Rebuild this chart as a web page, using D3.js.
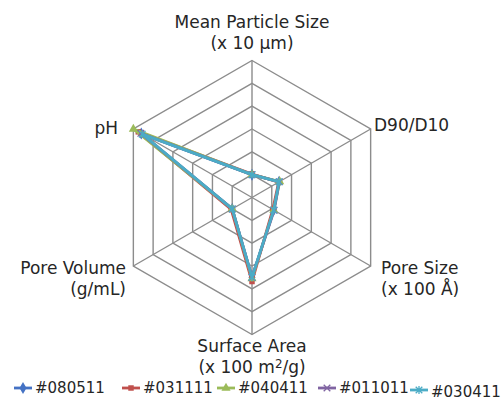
<!DOCTYPE html>
<html>
<head>
<meta charset="utf-8">
<script src="https://cdn.jsdelivr.net/npm/d3@7"></script>
<style>
  html, body { margin: 0; padding: 0; background: #fff; }
  svg { display: block; }
  text { font-family: "DejaVu Sans", sans-serif; fill: #262626; }
</style>
</head>
<body>
<svg id="chart" width="504" height="403"></svg>
<script>
// Axis names (two lines each) and the ring ticks of the radial scale
const axisNames = ["Mean Particle Size", "D90/D10", "Pore Size", "Surface Area", "Pore Volume", "pH"];
const axisUnits = ["(x 10 µm)", "", "(x 100 Å)", "(x 100 m²/g)", "(g/mL)", ""];
const ringTicks = [1, 2, 3, 4, 5, 6];

// Lots and their values, in axis order
const seriesNames = ["#080511", "#031111", "#040411", "#011011", "#030411"];
const s080511 = [1.0, 1.37, 1.1, 3.5, 1.0, 5.6];
const s031111 = [1.03, 1.35, 1.05, 3.68, 1.05, 5.75];
const s040411 = [1.0, 1.4, 1.1, 3.55, 1.0, 6.0];
const s011011 = [1.0, 1.38, 1.12, 3.5, 1.0, 5.62];
const s030411 = [1.0, 1.37, 1.1, 3.49, 1.0, 5.55];
const seriesValues = [s080511, s031111, s040411, s011011, s030411];
const seriesColors = ["#4472C4", "#C0504D", "#9BBB59", "#8064A2", "#4BACC6"];
const seriesMarkers = ["diamond", "square", "triangle", "x", "star"];

const svg = d3.select("#chart");
const cx = 252, cy = 197.5, R = 137;
const r = d3.scaleLinear().domain([0, 6]).range([0, R]);
const angle = d3.scaleLinear().domain([0, axisNames.length]).range([-Math.PI / 2, 1.5 * Math.PI]);
const px = (i, v) => cx + r(v) * Math.cos(angle(i));
const py = (i, v) => cy + r(v) * Math.sin(angle(i));

// Marker shapes: filled for diamond/square/triangle, stroked for x and star
function drawMarker(sel, kind, color, x, y, s) {
  const t = `translate(${x},${y})`;
  if (kind === "diamond") {
    sel.append("path").attr("d", d3.symbol().type(d3.symbolDiamond).size(s * 7)()).attr("transform", t).attr("fill", color);
  } else if (kind === "square") {
    sel.append("path").attr("d", d3.symbol().type(d3.symbolSquare).size(s * 5)()).attr("transform", t).attr("fill", color);
  } else if (kind === "triangle") {
    sel.append("path").attr("d", d3.symbol().type(d3.symbolTriangle).size(s * 6)()).attr("transform", t).attr("fill", color);
  } else {
    const h = s * 0.55;
    let d = `M${-h},${-h}L${h},${h}M${-h},${h}L${h},${-h}`;
    if (kind === "star") d += `M0,${-h * 1.2}L0,${h * 1.2}`;
    sel.append("path").attr("d", d).attr("transform", t)
      .attr("fill", "none").attr("stroke", color).attr("stroke-width", 1.3);
  }
}

const g = svg.append("g");

// Hexagonal grid rings
const ringLine = d3.line();
ringTicks.forEach(t => {
  const pts = axisNames.map((_, i) => [px(i, t), py(i, t)]);
  g.append("path")
    .attr("d", ringLine(pts) + "Z")
    .attr("fill", "none")
    .attr("stroke", "#8c8c8c")
    .attr("stroke-width", 1.4);
});

// Spokes
axisNames.forEach((_, i) => {
  g.append("line")
    .attr("x1", cx).attr("y1", cy)
    .attr("x2", px(i, 6)).attr("y2", py(i, 6))
    .attr("stroke", "#8c8c8c")
    .attr("stroke-width", 1.4);
});

// Axis labels
const fs = 17;
const labelPos = [
  { x: cx, y: 22, anchor: "middle" },
  { x: 374, y: 125, anchor: "start" },
  { x: 381, y: 268, anchor: "start" },
  { x: cx, y: 346, anchor: "middle" },
  { x: 126, y: 268, anchor: "end" },
  { x: 118, y: 128, anchor: "end" }
];
axisNames.forEach((name, i) => {
  const p = labelPos[i];
  const t = g.append("text")
    .attr("text-anchor", p.anchor)
    .attr("font-size", fs);
  t.append("tspan").attr("x", p.x).attr("y", p.y).attr("dy", "0.35em").text(name);
  if (axisUnits[i]) {
    const u = axisUnits[i];
    const sp = t.append("tspan").attr("x", p.x).attr("y", p.y + 21).attr("dy", "0.35em");
    if (u.includes("²")) {
      const [a, b] = u.split("²");
      sp.append("tspan").text(a);
      sp.append("tspan").attr("font-size", fs * 0.7).attr("dy", "-0.45em").text("2");
      sp.append("tspan").attr("dy", "0.3em").text(b);
    } else {
      sp.text(u);
    }
  }
});

// Series: closed line, then its markers
const radarLine = d3.line()
  .x((v, i) => px(i, v))
  .y((v, i) => py(i, v));

seriesValues.forEach((vals, s) => {
  const sg = g.append("g");
  sg.append("path")
    .attr("d", radarLine(vals) + "Z")
    .attr("fill", "none")
    .attr("stroke", seriesColors[s])
    .attr("stroke-width", 2.8)
    .attr("stroke-linejoin", "round");
  vals.forEach((v, i) => drawMarker(sg, seriesMarkers[s], seriesColors[s], px(i, v), py(i, v), 6));
});

// Legend (the last entry sits a little lower, as the row overflows)
const legendPos = [
  { x: 14, y: 388 }, { x: 122, y: 388 }, { x: 217, y: 388 }, { x: 318, y: 388 }, { x: 410, y: 390 }
];
seriesNames.forEach((name, s) => {
  const p = legendPos[s];
  const lg = svg.append("g").attr("transform", `translate(${p.x},${p.y})`);
  lg.append("line").attr("x1", 0).attr("x2", 18).attr("y1", 0).attr("y2", 0)
    .attr("stroke", seriesColors[s]).attr("stroke-width", 2.8);
  drawMarker(lg, seriesMarkers[s], seriesColors[s], 9, 0, 6);
  lg.append("text").attr("x", 21).attr("y", s === 4 ? 1.5 : 0).attr("dy", "0.35em")
    .attr("font-size", 15).text(name);
});
</script>
</body>
</html>
